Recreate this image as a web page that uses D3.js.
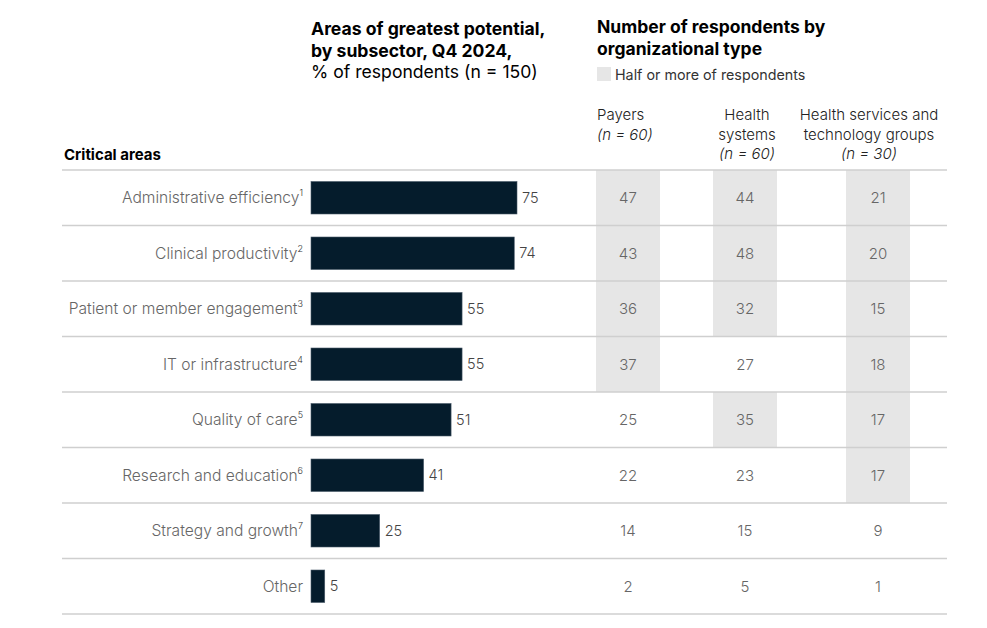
<!DOCTYPE html>
<html>
  <head>
    <meta charset="utf-8" />
    <title>Critical areas</title>
    <script src="https://cdnjs.cloudflare.com/ajax/libs/d3/7.8.5/d3.min.js"></script>
    <style>
      body {
        margin: 0;
        background: #fff;
      }
      svg text {
        font-family: Inter, Roboto, "Liberation Sans", sans-serif;
      }
    </style>
  </head>
  <body>
    <div id="chart"></div>

    <script>
      // critical areas, top to bottom
      const categories = [
        "Administrative efficiency",
        "Clinical productivity",
        "Patient or member engagement",
        "IT or infrastructure",
        "Quality of care",
        "Research and education",
        "Strategy and growth",
        "Other",
      ];
      const footnotes = ["1", "2", "3", "4", "5", "6", "7", ""];

      // % of respondents (n = 150)
      const overall = [75, 74, 55, 55, 51, 41, 25, 5];

      // number of respondents by organizational type
      const payers = [47, 43, 36, 37, 25, 22, 14, 2];
      const healthSystems = [44, 48, 32, 27, 35, 23, 15, 5];
      const servicesTech = [21, 20, 15, 18, 17, 17, 9, 1];

      const groupNames = [
        ["Payers"],
        ["Health", "systems"],
        ["Health services and", "technology groups"],
      ];
      const groupN = [60, 60, 30];
      const groupValues = [payers, healthSystems, servicesTech];

      const width = 987,
        height = 628;

      const svg = d3
        .select("#chart")
        .append("svg")
        .attr("width", width)
        .attr("height", height);

      const y = d3
        .scaleBand()
        .domain(categories)
        .range([170, 614])
        .paddingInner(0)
        .paddingOuter(0);

      const x = d3.scaleLinear().domain([0, 75]).range([311, 517]);

      // column centres for the three organisation types
      const col = d3.scaleOrdinal().domain([0, 1, 2]).range([628, 745, 878]);
      const shadeW = 64;

      // grey cells where the count is half or more of the group
      groupValues.forEach((vals, g) => {
        svg
          .append("g")
          .selectAll("rect")
          .data(vals.map((v, i) => ({ v, cat: categories[i] })))
          .join("rect")
          .filter((d) => d.v >= groupN[g] / 2)
          .attr("x", col(g) - shadeW / 2)
          .attr("y", (d) => y(d.cat))
          .attr("width", shadeW)
          .attr("height", y.bandwidth())
          .attr("fill", "#e6e6e6");
      });

      // row separators
      const lines = [...categories.map((c) => y(c)), y.range()[1]];
      svg
        .append("g")
        .selectAll("line")
        .data(lines)
        .join("line")
        .attr("x1", 62)
        .attr("x2", 947)
        .attr("y1", (d) => d)
        .attr("y2", (d) => d)
        .attr("stroke", "#cfcfcf")
        .attr("stroke-width", 1.5);

      // bars
      const barH = 32.5;
      svg
        .append("g")
        .selectAll("rect")
        .data(overall)
        .join("rect")
        .attr("x", x(0))
        .attr("y", (d, i) => y(categories[i]) + y.bandwidth() / 2 - barH / 2)
        .attr("width", (d) => x(d) - x(0))
        .attr("height", barH)
        .attr("fill", "#051c2c")
        .attr("stroke", "#4a5a6a")
        .attr("stroke-width", 0.6);

      // bar value labels
      svg
        .append("g")
        .selectAll("text")
        .data(overall)
        .join("text")
        .attr("x", (d) => x(d) + 5)
        .attr("y", (d, i) => y(categories[i]) + y.bandwidth() / 2)
        .attr("dy", "0.35em")
        .attr("font-size", 14.5)
        .attr("font-weight", 300)
        .attr("fill", "#444")
        .text((d) => d);

      // category labels with footnote marks
      const catLabels = svg
        .append("g")
        .selectAll("text")
        .data(categories)
        .join("text")
        .attr("x", 303)
        .attr("y", (d) => y(d) + y.bandwidth() / 2)
        .attr("dy", "0.35em")
        .attr("text-anchor", "end")
        .attr("font-size", 15.6)
        .attr("font-weight", 300)
        .attr("fill", "#666");
      catLabels.append("tspan").text((d) => d);
      catLabels
        .append("tspan")
        .attr("font-size", 9)
        .attr("fill", "#333")
        .attr("dy", "-0.75em")
        .text((d, i) => footnotes[i]);

      // counts table
      groupValues.forEach((vals, g) => {
        svg
          .append("g")
          .selectAll("text")
          .data(vals)
          .join("text")
          .attr("x", col(g))
          .attr("y", (d, i) => y(categories[i]) + y.bandwidth() / 2)
          .attr("dy", "0.35em")
          .attr("text-anchor", "middle")
          .attr("font-size", 15)
          .attr("font-weight", 300)
          .attr("fill", "#666")
          .text((d) => d);
      });

      // titles
      const t1 = svg
        .append("text")
        .attr("x", 311)
        .attr("y", 35)
        .attr("font-size", 17.6)
        .attr("fill", "#000");
      t1.append("tspan")
        .attr("x", 311)
        .attr("font-weight", 700)
        .text("Areas of greatest potential,");
      t1.append("tspan")
        .attr("x", 311)
        .attr("dy", 21.5)
        .attr("font-weight", 700)
        .text("by subsector, Q4 2024,");
      t1.append("tspan")
        .attr("x", 311)
        .attr("dy", 21.5)
        .attr("font-weight", 400)
        .text("% of respondents (n = 150)");

      const t2 = svg
        .append("text")
        .attr("x", 597)
        .attr("y", 33)
        .attr("font-size", 17.5)
        .attr("font-weight", 700)
        .attr("fill", "#000");
      t2.append("tspan").attr("x", 597).text("Number of respondents by");
      t2.append("tspan")
        .attr("x", 597)
        .attr("dy", 21.5)
        .text("organizational type");

      // legend
      svg
        .append("rect")
        .attr("x", 597)
        .attr("y", 67)
        .attr("width", 14)
        .attr("height", 14)
        .attr("fill", "#e6e6e6");
      svg
        .append("text")
        .attr("x", 615)
        .attr("y", 80)
        .attr("font-size", 14.3)
        .attr("fill", "#333")
        .text("Half or more of respondents");

      // column headers
      const headerAnchor = ["start", "middle", "middle"];
      const headerX = [597, 747, 869];
      groupNames.forEach((lines, g) => {
        const t = svg
          .append("text")
          .attr("y", 120)
          .attr("font-size", 15)
          .attr("font-weight", 300)
          .attr("fill", "#222")
          .attr("text-anchor", headerAnchor[g]);
        lines.forEach((l, k) => {
          t.append("tspan")
            .attr("x", headerX[g])
            .attr("dy", k === 0 ? 0 : 19.5)
            .text(l);
        });
        t.append("tspan")
          .attr("x", headerX[g])
          .attr("dy", 19.5)
          .attr("font-style", "italic")
          .text(`(n = ${groupN[g]})`);
      });

      svg
        .append("text")
        .attr("x", 64)
        .attr("y", 160)
        .attr("font-size", 15)
        .attr("font-weight", 700)
        .attr("fill", "#000")
        .text("Critical areas");
    </script>
  </body>
</html>
